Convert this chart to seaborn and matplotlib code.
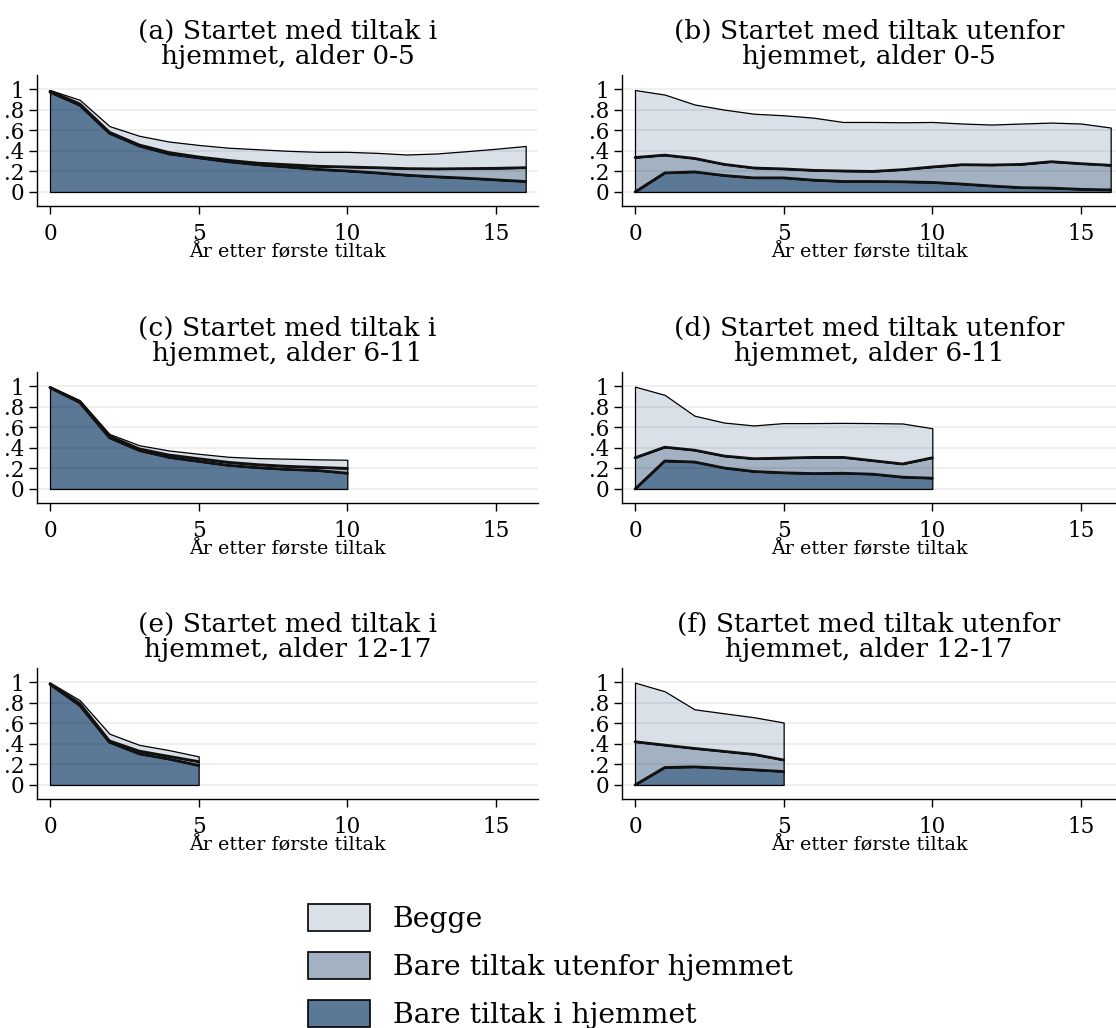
import matplotlib
matplotlib.use("Agg")
import matplotlib.pyplot as plt
from matplotlib.patches import Patch
import numpy as np
import pandas as pd
import seaborn as sns

# Share of children by type of measure, per year after the first measure
years_0_5 = list(range(17))
years_6_11 = list(range(11))
years_12_17 = list(range(6))

# (a) started in-home, age 0-5
a_hjemme = [0.970, 0.843, 0.570, 0.447, 0.370, 0.332, 0.294, 0.265, 0.243, 0.220, 0.204, 0.185, 0.163, 0.147, 0.134, 0.118, 0.102]
a_utenfor = [0.008, 0.013, 0.010, 0.010, 0.013, 0.008, 0.013, 0.015, 0.022, 0.030, 0.039, 0.051, 0.064, 0.077, 0.093, 0.112, 0.134]
a_begge = [0.012, 0.039, 0.060, 0.089, 0.107, 0.117, 0.123, 0.135, 0.135, 0.140, 0.147, 0.144, 0.137, 0.150, 0.169, 0.190, 0.211]

# (b) started out-of-home, age 0-5
b_hjemme = [0.000, 0.185, 0.195, 0.160, 0.137, 0.137, 0.115, 0.102, 0.102, 0.099, 0.093, 0.077, 0.058, 0.042, 0.038, 0.026, 0.020]
b_utenfor = [0.335, 0.173, 0.131, 0.108, 0.096, 0.087, 0.095, 0.102, 0.098, 0.118, 0.150, 0.188, 0.204, 0.226, 0.256, 0.249, 0.239]
b_begge = [0.655, 0.588, 0.524, 0.532, 0.527, 0.521, 0.512, 0.476, 0.480, 0.460, 0.437, 0.400, 0.393, 0.397, 0.380, 0.390, 0.367]

# (c) started in-home, age 6-11
c_hjemme = [0.984, 0.840, 0.498, 0.374, 0.307, 0.268, 0.230, 0.207, 0.190, 0.180, 0.153]
c_utenfor = [0.003, 0.010, 0.016, 0.016, 0.023, 0.026, 0.029, 0.029, 0.030, 0.030, 0.047]
c_begge = [0.007, 0.012, 0.020, 0.035, 0.044, 0.048, 0.054, 0.064, 0.074, 0.078, 0.084]

# (d) started out-of-home, age 6-11
d_hjemme = [0.000, 0.272, 0.262, 0.204, 0.170, 0.157, 0.150, 0.153, 0.144, 0.115, 0.105]
d_utenfor = [0.303, 0.134, 0.115, 0.116, 0.124, 0.143, 0.157, 0.154, 0.131, 0.128, 0.198]
d_begge = [0.691, 0.508, 0.335, 0.325, 0.323, 0.340, 0.333, 0.335, 0.365, 0.393, 0.287]

# (e) started in-home, age 12-17
e_hjemme = [0.978, 0.773, 0.415, 0.303, 0.252, 0.190]
e_utenfor = [0.006, 0.019, 0.013, 0.026, 0.026, 0.037]
e_begge = [0.010, 0.032, 0.070, 0.061, 0.061, 0.051]

# (f) started out-of-home, age 12-17
f_hjemme = [0.000, 0.170, 0.176, 0.163, 0.147, 0.131]
f_utenfor = [0.420, 0.217, 0.179, 0.163, 0.150, 0.112]
f_begge = [0.574, 0.523, 0.380, 0.370, 0.361, 0.364]

titles = [
    "(a) Startet med tiltak i\nhjemmet, alder 0-5",
    "(b) Startet med tiltak utenfor\nhjemmet, alder 0-5",
    "(c) Startet med tiltak i\nhjemmet, alder 6-11",
    "(d) Startet med tiltak utenfor\nhjemmet, alder 6-11",
    "(e) Startet med tiltak i\nhjemmet, alder 12-17",
    "(f) Startet med tiltak utenfor\nhjemmet, alder 12-17",
]
legend_labels = ["Begge", "Bare tiltak utenfor hjemmet", "Bare tiltak i hjemmet"]
xlabel = "År etter første tiltak"
xticks = [0, 5, 10, 15]
yticks = [0, 0.2, 0.4, 0.6, 0.8, 1.0]
ytick_labels = ["0", ".2", ".4", ".6", ".8", "1"]

panels = [
    (years_0_5, a_hjemme, a_utenfor, a_begge),
    (years_0_5, b_hjemme, b_utenfor, b_begge),
    (years_6_11, c_hjemme, c_utenfor, c_begge),
    (years_6_11, d_hjemme, d_utenfor, d_begge),
    (years_12_17, e_hjemme, e_utenfor, e_begge),
    (years_12_17, f_hjemme, f_utenfor, f_begge),
]

col_hjemme = "#5b7896"
col_utenfor = "#a2b2c2"
col_begge = "#d9e0e8"

sns.set_theme(style="white")
plt.rcParams["font.family"] = ["DejaVu Serif"]
plt.rcParams["mathtext.fontset"] = "dejavuserif"
plt.rcParams["text.color"] = "black"
plt.rcParams["axes.labelcolor"] = "black"
plt.rcParams["xtick.color"] = "black"
plt.rcParams["ytick.color"] = "black"

W, H = 1116, 1028
fig = plt.figure(figsize=(W / 100, H / 100), dpi=100)

# panel frame in pixels: left/right edges per column, top edge per row
col_left = [37, 622]
col_right = [538, 1116]
col_zero = [50, 635]      # pixel position of x = 0
px_per_year = 29.73
row_top = [75, 372, 668]
row_h = 131

for i, (yrs, hj, ut, be) in enumerate(panels):
    r, c = divmod(i, 2)
    x0, x1 = col_left[c], col_right[c]
    y_top = row_top[r]
    ax = fig.add_axes([x0 / W, 1 - (y_top + row_h) / H, (x1 - x0) / W, row_h / H])

    df = pd.DataFrame({"år": yrs, "hjemme": hj, "utenfor": ut, "begge": be})
    df["nivå1"] = df["hjemme"]
    df["nivå2"] = df["hjemme"] + df["utenfor"]

    ax.stackplot(df["år"], df["hjemme"], df["utenfor"], df["begge"],
                 colors=[col_hjemme, col_utenfor, col_begge],
                 edgecolor="black", linewidth=0.9, zorder=1)
    for lvl in ["nivå1", "nivå2"]:
        sns.lineplot(data=df, x="år", y=lvl, ax=ax, color="#111111",
                     linewidth=2.0, zorder=2, legend=False)

    ax.set_xlim((x0 - col_zero[c]) / px_per_year, (x1 - col_zero[c]) / px_per_year)
    ax.set_ylim(-0.136, 1.136)
    ax.set_xticks(xticks)
    ax.set_yticks(yticks)
    ax.set_yticklabels(ytick_labels)
    ax.tick_params(axis="both", which="major", direction="out", length=6,
                   width=1, color="black", labelsize=15.5, pad=3, left=True, bottom=True)
    ax.tick_params(axis="x", pad=6)
    ax.yaxis.grid(True, color="black", alpha=0.08, linewidth=1.1, zorder=3)
    ax.set_axisbelow(False)
    ax.xaxis.grid(False)
    for s in ["top", "right"]:
        ax.spines[s].set_visible(False)
    for s in ["left", "bottom"]:
        ax.spines[s].set_color("black")
        ax.spines[s].set_linewidth(1.0)
    ax.set_xlabel(xlabel, fontsize=13.8, labelpad=0)
    ax.xaxis.set_label_coords(0.5, -0.285)
    ax.set_ylabel("")
    ax.set_title(titles[i], fontsize=19, linespacing=1.02, pad=8)

handles = [Patch(facecolor=col_begge, edgecolor="black", linewidth=1.2),
           Patch(facecolor=col_utenfor, edgecolor="black", linewidth=1.2),
           Patch(facecolor=col_hjemme, edgecolor="black", linewidth=1.2)]
fig.legend(handles, legend_labels, loc="upper left",
           bbox_to_anchor=(297 / W, 1 - 893 / H), frameon=False,
           fontsize=20.3, handlelength=2.2, handleheight=1.1,
           handletextpad=0.8, labelspacing=0.66, borderaxespad=0)

fig.savefig("out.png", dpi=100, facecolor="white")
